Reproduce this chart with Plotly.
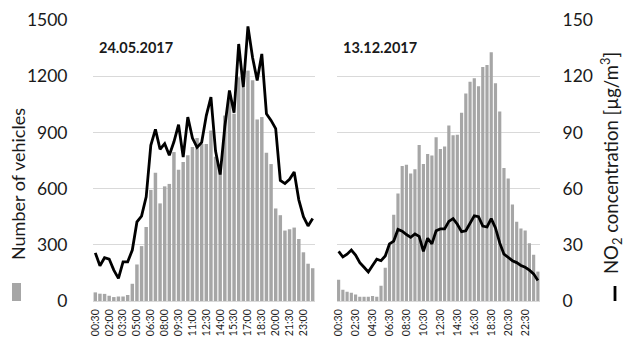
import plotly.graph_objects as go

# Half-hour slots (end of interval)
times = [
    "00:30", "01:00", "01:30", "02:00", "02:30", "03:00", "03:30", "04:00",
    "04:30", "05:00", "05:30", "06:00", "06:30", "07:00", "07:30", "08:00",
    "08:30", "09:00", "09:30", "10:00", "10:30", "11:00", "11:30", "12:00",
    "12:30", "13:00", "13:30", "14:00", "14:30", "15:00", "15:30", "16:00",
    "16:30", "17:00", "17:30", "18:00", "18:30", "19:00", "19:30", "20:00",
    "20:30", "21:00", "21:30", "22:00", "22:30", "23:00", "23:30", "24:00",
]

# 24.05.2017
vehicles_may = [
    46, 39, 38, 28, 21, 24, 24, 32, 92, 195, 293, 395,
    593, 684, 521, 612, 625, 795, 700, 742, 778, 822, 870, 838,
    838, 910, 770, 720, 990, 1078, 1000, 1195, 1140, 1230, 1178, 969,
    982, 792, 731, 494, 458, 376, 383, 392, 331, 260, 199, 175,
]
no2_may = [
    25.7, 18.8, 23.1, 22.4, 16.5, 12.1, 20.9, 20.9, 27.2, 42.2, 45.3, 55.6,
    83.1, 91.6, 81.0, 84.0, 77.8, 85.0, 94.1, 76.8, 98.2, 87.0, 82.0, 84.7,
    99.0, 108.8, 80.0, 67.5, 93.0, 112.4, 100.5, 137.2, 114.1, 146.6, 130.0, 117.7,
    131.9, 100.0, 96.4, 92.0, 64.4, 62.7, 65.0, 68.9, 54.0, 45.0, 40.1, 44.0,
]

# 13.12.2017
vehicles_dec = [
    114, 60, 50, 44, 35, 23, 23, 23, 27, 23, 82, 178,
    302, 460, 574, 720, 727, 680, 703, 833, 731, 785, 777, 874,
    812, 825, 937, 885, 887, 1005, 1107, 1171, 1189, 1146, 1249, 1260,
    1328, 1162, 1011, 710, 654, 515, 423, 387, 376, 308, 247, 157,
]
no2_dec = [
    26.5, 23.5, 25.0, 27.2, 24.5, 20.5, 18.0, 15.5, 19.0, 22.3, 21.5, 24.0,
    30.5, 32.0, 38.2, 37.3, 35.5, 34.0, 35.8, 34.5, 26.5, 33.5, 30.5, 37.5,
    38.5, 38.5, 42.5, 44.0, 41.0, 37.0, 37.5, 41.5, 45.5, 45.0, 40.0, 39.5,
    44.0, 39.0, 31.0, 25.0, 23.0, 21.5, 20.5, 19.0, 18.0, 16.5, 14.5, 11.0,
]

ticks_may = ["00:30", "02:00", "03:30", "05:00", "06:30", "08:00", "09:30", "11:00",
             "12:30", "14:00", "15:30", "17:00", "18:30", "20:00", "21:30", "23:00"]
ticks_dec = ["00:30", "02:30", "04:30", "06:30", "08:30", "10:30",
             "12:30", "14:30", "16:30", "18:30", "20:30", "22:30"]
vehicle_ticks = [0, 300, 600, 900, 1200, 1500]
no2_ticks = [0, 30, 60, 90, 120, 150]

W, H = 625, 342
L, R, T, B = 93, 85, 20, 41
PW, PH = W - L - R, H - T - B


def fx(px):
    return (px - L) / PW


def fy(py):
    return (H - B - py) / PH


FONT = "Lato"
TXT = "#1a1a1a"
BAR = "#a6a6a6"
GRID = "#d9d9d9"

fig = go.Figure()
fig.add_trace(go.Bar(x=times, y=vehicles_may, marker=dict(color=BAR, line=dict(width=0)),
                     xaxis="x", yaxis="y", showlegend=False))
fig.add_trace(go.Scatter(x=times, y=no2_may, mode="lines", line=dict(color="black", width=2.8),
                         xaxis="x", yaxis="y2", showlegend=False))
fig.add_trace(go.Bar(x=times, y=vehicles_dec, marker=dict(color=BAR, line=dict(width=0)),
                     xaxis="x2", yaxis="y3", showlegend=False))
fig.add_trace(go.Scatter(x=times, y=no2_dec, mode="lines", line=dict(color="black", width=2.8),
                         xaxis="x2", yaxis="y4", showlegend=False))

xcommon = dict(type="category", tickangle=-90, tickfont=dict(size=10.5, color=TXT, family=FONT),
               showgrid=False, showline=False, zeroline=False, ticks="outside", ticklen=3,
               tickcolor="rgba(0,0,0,0)", tickmode="array", automargin=False)
ycommon = dict(range=[0, 1500], tickvals=vehicle_ticks, showgrid=True, gridcolor=GRID,
               gridwidth=1, zeroline=True, zerolinecolor=GRID, zerolinewidth=1, showline=False,
               automargin=False)

fig.update_layout(
    width=W, height=H,
    margin=dict(l=L, r=R, t=T, b=B, pad=0, autoexpand=False),
    paper_bgcolor="white", plot_bgcolor="white",
    bargap=0.25,
    font=dict(family=FONT, color=TXT),
    xaxis=dict(domain=[0, fx(315)], anchor="y", tickvals=ticks_may, **xcommon),
    xaxis2=dict(domain=[fx(336.5), 1], anchor="y3", tickvals=ticks_dec, **xcommon),
    yaxis=dict(anchor="x", ticks="outside", ticklen=21, tickcolor="rgba(0,0,0,0)",
               tickfont=dict(size=17.5, color=TXT, family=FONT), **ycommon),
    yaxis2=dict(anchor="x", overlaying="y", range=[0, 150], visible=False),
    yaxis3=dict(anchor="x2", showticklabels=False, ticks="", **ycommon),
    yaxis4=dict(anchor="x2", overlaying="y3", side="right", range=[0, 150], tickvals=no2_ticks,
                showgrid=False, zeroline=False, showline=False, ticks="outside", ticklen=18,
                tickcolor="rgba(0,0,0,0)", tickfont=dict(size=17.5, color=TXT, family=FONT),
                automargin=False),
    annotations=[
        dict(text="<b>24.05.2017</b>", x=fx(97), y=fy(47), xref="paper", yref="paper",
             xanchor="left", yanchor="middle", showarrow=False,
             font=dict(size=14.5, color=TXT, family=FONT)),
        dict(text="<b>13.12.2017</b>", x=fx(341), y=fy(47), xref="paper", yref="paper",
             xanchor="left", yanchor="middle", showarrow=False,
             font=dict(size=14.5, color=TXT, family=FONT)),
        dict(text="Number of vehicles", x=fx(18), y=fy(184), xref="paper", yref="paper",
             xanchor="center", yanchor="middle", textangle=-90, showarrow=False,
             font=dict(size=18, color=TXT, family=FONT)),
        dict(text="NO<sub>2</sub> concentration [µg/m<sup>3</sup>]", x=fx(611), y=fy(163),
             xref="paper", yref="paper", xanchor="center", yanchor="middle", textangle=-90,
             showarrow=False, font=dict(size=18.5, color=TXT, family=FONT)),
    ],
    shapes=[
        # legend keys next to the axis titles
        dict(type="rect", xref="paper", yref="paper", x0=fx(12), x1=fx(21), y0=fy(301), y1=fy(283),
             fillcolor=BAR, line=dict(width=0)),
        dict(type="line", xref="paper", yref="paper", x0=fx(615), x1=fx(615), y0=fy(301), y1=fy(286),
             line=dict(color="black", width=2.8)),
    ],
)

fig.write_html("out.html")
